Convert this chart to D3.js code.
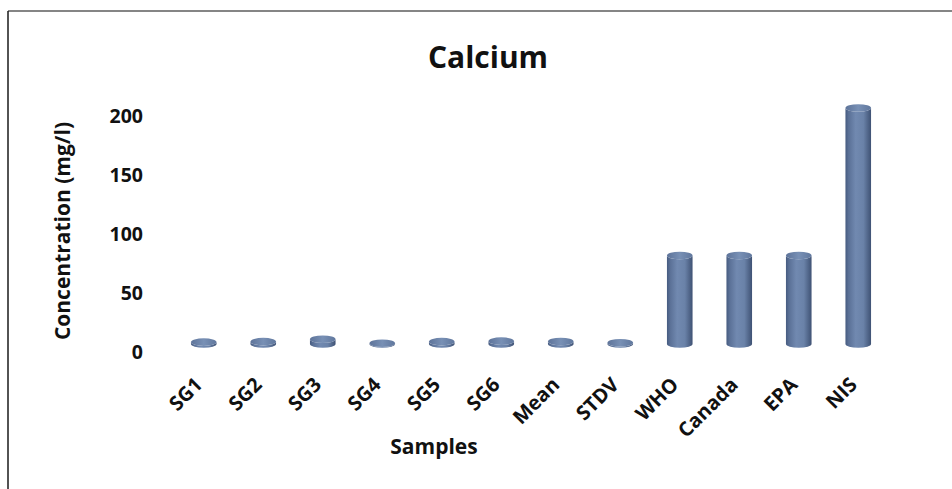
<!DOCTYPE html>
<html>
<head>
<meta charset="utf-8">
<script src="https://cdn.jsdelivr.net/npm/d3@7"></script>
<style>
  html, body { margin: 0; padding: 0; background: #fff; }
  svg { display: block; }
  text { font-family: "Open Sans", "Noto Sans", sans-serif; font-weight: 700; fill: #111; }
</style>
</head>
<body>
<svg id="chart" width="952" height="489"></svg>
<script>
// Calcium concentration (mg/l) in samples and guideline limits
const categories = ["SG1", "SG2", "SG3", "SG4", "SG5", "SG6", "Mean", "STDV", "WHO", "Canada", "EPA", "NIS"];
const calcium = [1.6, 2.0, 4.0, 0.6, 2.0, 2.4, 2.1, 1.1, 75, 75, 75, 200];
const yTicks = [0, 50, 100, 150, 200];

const svg = d3.select("#chart");
const W = 952, H = 489;

// frame around the chart area
svg.append("line").attr("x1", 8).attr("y1", 11).attr("x2", W).attr("y2", 11)
  .attr("stroke", "#858585").attr("stroke-width", 2);
svg.append("line").attr("x1", 8).attr("y1", 11).attr("x2", 8).attr("y2", H)
  .attr("stroke", "#1a1a1a").attr("stroke-width", 1.5);

const x = d3.scaleBand().domain(categories).range([174, 888]);
const y = d3.scaleLinear().domain([0, 200]).range([352, 116]);

// bars sit slightly back in depth from the axis plane
const depthDy = -8;
const rx = 12.8, ry = 3.8;

const defs = svg.append("defs");
const grad = defs.append("linearGradient").attr("id", "cylBody")
  .attr("x1", "0%").attr("x2", "100%").attr("y1", "0%").attr("y2", "0%");
[["0%", "#465b80"], ["12%", "#5a7096"], ["40%", "#7189b0"], ["70%", "#6a82a8"], ["100%", "#3f5274"]]
  .forEach(([o, c]) => grad.append("stop").attr("offset", o).attr("stop-color", c));
const capGrad = defs.append("linearGradient").attr("id", "cylCap")
  .attr("x1", "0%").attr("x2", "100%").attr("y1", "0%").attr("y2", "0%");
[["0%", "#5d7399"], ["50%", "#7890b5"], ["100%", "#60779d"]]
  .forEach(([o, c]) => capGrad.append("stop").attr("offset", o).attr("stop-color", c));

// y axis labels (no axis line, no ticks)
const yAxis = svg.append("g").attr("transform", "translate(143,0)")
  .call(d3.axisLeft(y).tickValues(yTicks).tickSize(0).tickPadding(0));
yAxis.select(".domain").remove();
yAxis.selectAll("text").style("font-family", "'Open Sans', sans-serif")
  .style("font-weight", 700).style("font-size", "19.5px").attr("fill", "#111");

// cylinders
const bars = svg.append("g").selectAll("g").data(categories).join("g");
bars.append("path")
  .attr("fill", "url(#cylBody)")
  .attr("d", (c, i) => {
    const cx = x(c) + x.bandwidth() / 2;
    const yb = y(0) + depthDy;
    const yt = y(calcium[i]) + depthDy;
    return `M${cx - rx},${yt} L${cx - rx},${yb} A${rx},${ry} 0 0 0 ${cx + rx},${yb}` +
           ` L${cx + rx},${yt} A${rx},${ry} 0 0 1 ${cx - rx},${yt} Z`;
  });
bars.append("ellipse")
  .attr("cx", c => x(c) + x.bandwidth() / 2)
  .attr("cy", (c, i) => y(calcium[i]) + depthDy)
  .attr("rx", rx).attr("ry", ry)
  .attr("fill", "url(#cylCap)");

// x tick labels, rotated
svg.append("g").selectAll("text").data(categories).join("text")
  .attr("transform", c => `translate(${x(c) + x.bandwidth() / 2 - 5},${381}) rotate(-45)`)
  .attr("text-anchor", "end")
  .attr("dy", "0.35em")
  .style("font-size", "20px")
  .text(c => c);

// title and axis titles
svg.append("text").attr("x", 488).attr("y", 57).attr("text-anchor", "middle")
  .attr("dy", "0.35em").style("font-size", "30px").text("Calcium");
svg.append("text").attr("x", 434).attr("y", 447).attr("text-anchor", "middle")
  .attr("dy", "0.35em").style("font-size", "21px").text("Samples");
svg.append("text").attr("transform", "translate(63,231) rotate(-90)")
  .attr("text-anchor", "middle").attr("dy", "0.35em")
  .style("font-size", "21px").text("Concentration (mg/l)");
</script>
</body>
</html>
